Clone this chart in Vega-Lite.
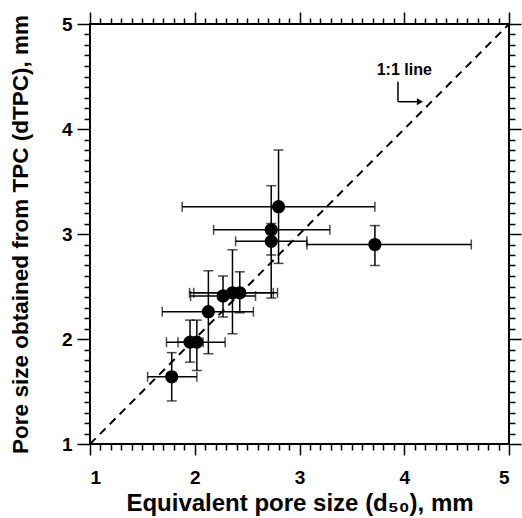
{
  "$schema": "https://vega.github.io/schema/vega-lite/v6.json",
  "width": 419,
  "height": 420,
  "autosize": "none",
  "padding": {"left": 90, "top": 24, "right": 13, "bottom": 74},
  "background": "white",
  "config": {
    "view": {"stroke": "black", "strokeWidth": 2},
    "font": "Liberation Sans",
    "axis": {"domain": false, "grid": false, "tickColor": "black", "tickWidth": 1.5, "labelFont": "Liberation Sans", "labelFontWeight": "bold", "labelFontSize": 19, "labelColor": "black", "titleFont": "Liberation Sans", "titleFontWeight": "bold", "titleFontSize": 24, "titleColor": "black"}
  },
  "resolve": {"axis": {"x": "independent", "y": "independent"}},
  "data": {"values": [
    {"x": 1.78, "y": 1.64, "xl": 1.55, "xh": 2.02, "yl": 1.41, "yh": 1.87},
    {"x": 1.955, "y": 1.97, "xl": 1.73, "xh": 2.08, "yl": 1.78, "yh": 2.18},
    {"x": 2.02, "y": 1.97, "xl": 1.84, "xh": 2.29, "yl": 1.70, "yh": 2.18},
    {"x": 2.13, "y": 2.26, "xl": 1.69, "xh": 2.56, "yl": 1.86, "yh": 2.65},
    {"x": 2.27, "y": 2.41, "xl": 1.96, "xh": 2.58, "yl": 2.21, "yh": 2.60},
    {"x": 2.36, "y": 2.44, "xl": 1.95, "xh": 2.75, "yl": 2.05, "yh": 2.85},
    {"x": 2.43, "y": 2.44, "xl": 1.99, "xh": 2.79, "yl": 2.25, "yh": 2.64},
    {"x": 2.73, "y": 2.93, "xl": 2.39, "xh": 3.07, "yl": 2.80, "yh": 3.10},
    {"x": 2.73, "y": 3.04, "xl": 2.18, "xh": 3.29, "yl": 2.39, "yh": 3.46},
    {"x": 2.80, "y": 3.26, "xl": 1.88, "xh": 3.72, "yl": 2.72, "yh": 3.80},
    {"x": 3.72, "y": 2.90, "xl": 3.07, "xh": 4.64, "yl": 2.70, "yh": 3.08}
  ]},
  "layer": [
    {
      "data": {"values": [{"a": 1, "b": 1}, {"a": 5, "b": 5}]},
      "mark": {"type": "line", "color": "black", "strokeWidth": 2, "strokeDash": [8, 6], "clip": true},
      "encoding": {
        "x": {"field": "a", "type": "quantitative", "scale": {"domain": [1, 5], "nice": false, "zero": false},
          "axis": {"orient": "bottom", "values": [1, 2, 3, 4, 5], "tickSize": 11, "labelPadding": 13, "format": "d", "title": "Equivalent pore size (d₅₀), mm", "titlePadding": 4}},
        "y": {"field": "b", "type": "quantitative", "scale": {"domain": [1, 5], "nice": false, "zero": false},
          "axis": {"orient": "left", "values": [1, 2, 3, 4, 5], "tickSize": 13, "labelPadding": 5, "format": "d", "title": "Pore size obtained from TPC (dTPC), mm", "titleFontSize": 22.5, "titlePadding": 29}}
      }
    },
    {
      "mark": {"type": "rule", "color": "black", "strokeWidth": 1.5},
      "encoding": {
        "x": {"field": "xl", "type": "quantitative", "scale": {"domain": [1, 5], "nice": false, "zero": false},
          "axis": {"orient": "bottom", "values": [1.1,1.2,1.3,1.4,1.5,1.6,1.7,1.8,1.9,2.1,2.2,2.3,2.4,2.5,2.6,2.7,2.8,2.9,3.1,3.2,3.3,3.4,3.5,3.6,3.7,3.8,3.9,4.1,4.2,4.3,4.4,4.5,4.6,4.7,4.8,4.9], "tickSize": 6, "labels": false, "title": null}},
        "x2": {"field": "xh"},
        "y": {"field": "y", "type": "quantitative", "scale": {"domain": [1, 5], "nice": false, "zero": false},
          "axis": {"orient": "left", "values": [1.1,1.2,1.3,1.4,1.5,1.6,1.7,1.8,1.9,2.1,2.2,2.3,2.4,2.5,2.6,2.7,2.8,2.9,3.1,3.2,3.3,3.4,3.5,3.6,3.7,3.8,3.9,4.1,4.2,4.3,4.4,4.5,4.6,4.7,4.8,4.9], "tickSize": 6, "labels": false, "title": null}}
      }
    },
    {
      "mark": {"type": "rule", "color": "black", "strokeWidth": 1.5},
      "encoding": {
        "x": {"field": "x", "type": "quantitative", "scale": {"domain": [1, 5], "nice": false, "zero": false},
          "axis": {"orient": "top", "values": [1, 2, 3, 4, 5], "tickSize": 12, "labels": false, "title": null}},
        "y": {"field": "yl", "type": "quantitative", "scale": {"domain": [1, 5], "nice": false, "zero": false},
          "axis": {"orient": "right", "values": [1, 2, 3, 4, 5], "tickSize": 12, "labels": false, "title": null}},
        "y2": {"field": "yh"}
      }
    },
    {
      "mark": {"type": "tick", "color": "black", "orient": "vertical", "size": 10, "thickness": 1.5},
      "encoding": {
        "x": {"field": "xl", "type": "quantitative", "scale": {"domain": [1, 5], "nice": false, "zero": false},
          "axis": {"orient": "top", "values": [1.1,1.2,1.3,1.4,1.5,1.6,1.7,1.8,1.9,2.1,2.2,2.3,2.4,2.5,2.6,2.7,2.8,2.9,3.1,3.2,3.3,3.4,3.5,3.6,3.7,3.8,3.9,4.1,4.2,4.3,4.4,4.5,4.6,4.7,4.8,4.9], "tickSize": 6, "labels": false, "title": null}},
        "y": {"field": "y", "type": "quantitative", "scale": {"domain": [1, 5], "nice": false, "zero": false},
          "axis": {"orient": "right", "values": [1.1,1.2,1.3,1.4,1.5,1.6,1.7,1.8,1.9,2.1,2.2,2.3,2.4,2.5,2.6,2.7,2.8,2.9,3.1,3.2,3.3,3.4,3.5,3.6,3.7,3.8,3.9,4.1,4.2,4.3,4.4,4.5,4.6,4.7,4.8,4.9], "tickSize": 6, "labels": false, "title": null}}
      }
    },
    {
      "mark": {"type": "tick", "color": "black", "orient": "vertical", "size": 10, "thickness": 1.5},
      "encoding": {
        "x": {"field": "xh", "type": "quantitative", "scale": {"domain": [1, 5], "nice": false, "zero": false}, "axis": null},
        "y": {"field": "y", "type": "quantitative", "scale": {"domain": [1, 5], "nice": false, "zero": false}, "axis": null}
      }
    },
    {
      "mark": {"type": "tick", "color": "black", "orient": "horizontal", "size": 10, "thickness": 1.5},
      "encoding": {
        "x": {"field": "x", "type": "quantitative", "scale": {"domain": [1, 5], "nice": false, "zero": false}, "axis": null},
        "y": {"field": "yl", "type": "quantitative", "scale": {"domain": [1, 5], "nice": false, "zero": false}, "axis": null}
      }
    },
    {
      "mark": {"type": "tick", "color": "black", "orient": "horizontal", "size": 10, "thickness": 1.5},
      "encoding": {
        "x": {"field": "x", "type": "quantitative", "scale": {"domain": [1, 5], "nice": false, "zero": false}, "axis": null},
        "y": {"field": "yh", "type": "quantitative", "scale": {"domain": [1, 5], "nice": false, "zero": false}, "axis": null}
      }
    },
    {
      "mark": {"type": "point", "filled": true, "color": "black", "size": 175, "opacity": 1},
      "encoding": {
        "x": {"field": "x", "type": "quantitative", "scale": {"domain": [1, 5], "nice": false, "zero": false}, "axis": null},
        "y": {"field": "y", "type": "quantitative", "scale": {"domain": [1, 5], "nice": false, "zero": false}, "axis": null}
      }
    },
    {
      "data": {"values": [{"label": "1:1 line", "a": 4.0, "b": 4.56}]},
      "mark": {"type": "text", "font": "Liberation Sans", "fontWeight": "bold", "fontSize": 16, "color": "black"},
      "encoding": {
        "x": {"field": "a", "type": "quantitative", "scale": {"domain": [1, 5], "nice": false, "zero": false}, "axis": null},
        "y": {"field": "b", "type": "quantitative", "scale": {"domain": [1, 5], "nice": false, "zero": false}, "axis": null},
        "text": {"field": "label"}
      }
    },
    {
      "data": {"values": [{"a": 3.94, "b": 4.45, "a2": 3.94, "b2": 4.26}, {"a": 3.94, "b": 4.26, "a2": 4.14, "b2": 4.26}]},
      "mark": {"type": "rule", "color": "black", "strokeWidth": 1.5},
      "encoding": {
        "x": {"field": "a", "type": "quantitative", "scale": {"domain": [1, 5], "nice": false, "zero": false}, "axis": null},
        "y": {"field": "b", "type": "quantitative", "scale": {"domain": [1, 5], "nice": false, "zero": false}, "axis": null},
        "x2": {"field": "a2"},
        "y2": {"field": "b2"}
      }
    },
    {
      "data": {"values": [{"a": 4.15, "b": 4.26}]},
      "mark": {"type": "point", "shape": "triangle-right", "filled": true, "color": "black", "size": 50, "opacity": 1},
      "encoding": {
        "x": {"field": "a", "type": "quantitative", "scale": {"domain": [1, 5], "nice": false, "zero": false}, "axis": null},
        "y": {"field": "b", "type": "quantitative", "scale": {"domain": [1, 5], "nice": false, "zero": false}, "axis": null}
      }
    }
  ]
}
